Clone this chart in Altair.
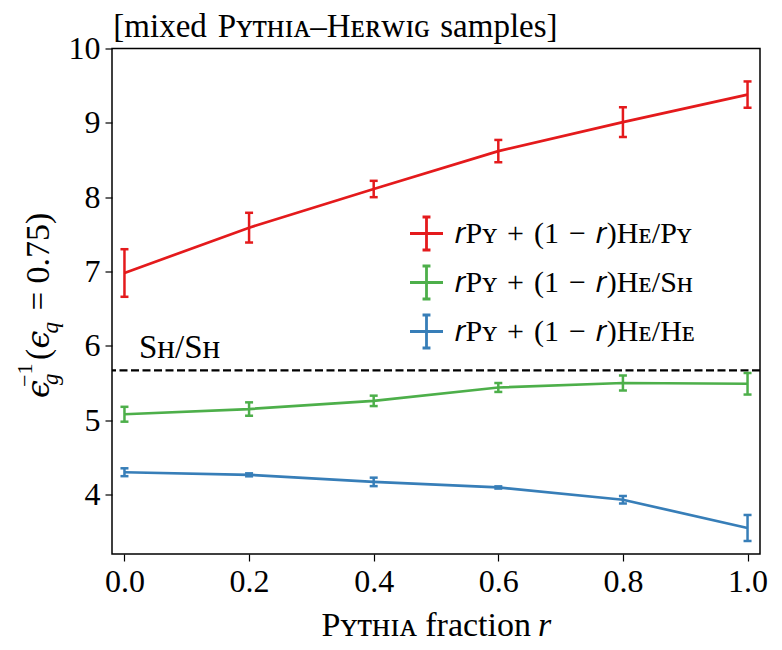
import altair as alt
import pandas as pd

# ---- data ----
r_vals = [0.0, 0.2, 0.4, 0.6, 0.8, 1.0]
py_vals = [6.98, 7.59, 8.11, 8.62, 9.01, 9.38]
py_errs = [0.32, 0.20, 0.11, 0.15, 0.20, 0.177]
sh_vals = [5.08, 5.15, 5.26, 5.44, 5.50, 5.49]
sh_errs = [0.10, 0.09, 0.07, 0.06, 0.10, 0.145]
he_vals = [4.30, 4.265, 4.17, 4.095, 3.93, 3.55]
he_errs = [0.053, 0.02, 0.057, 0.015, 0.05, 0.175]
shsh_ref = 5.67

SP = "\u2004"
series_labels = [
    f"𝑟Pʏ{SP}+{SP}(1{SP}−{SP}𝑟)Hᴇ/Pʏ",
    f"𝑟Pʏ{SP}+{SP}(1{SP}−{SP}𝑟)Hᴇ/Sʜ",
    f"𝑟Pʏ{SP}+{SP}(1{SP}−{SP}𝑟)Hᴇ/Hᴇ",
]
series_colors = ["#e41a1c", "#4daf4a", "#377eb8"]
x_ticks = [0.0, 0.2, 0.4, 0.6, 0.8, 1.0]
y_ticks = [4, 5, 6, 7, 8, 9, 10]
title_text = "[mixed\u2004Pʏᴛʜɪᴀ–Hᴇʀᴡɪɢ\u2004samples]"
xtitle_text = "Pʏᴛʜɪᴀ fraction"
ref_text = "Sʜ/Sʜ"

FONT = "Liberation Serif"

rows = []
for lab, vals, errs in zip(series_labels, [py_vals, sh_vals, he_vals], [py_errs, sh_errs, he_errs]):
    for rv, v, e in zip(r_vals, vals, errs):
        rows.append({"r": rv, "value": v, "lo": v - e, "hi": v + e, "series": lab})
df = pd.DataFrame(rows)

W, H = 648, 505.5

xscale = alt.Scale(domain=[-0.02, 1.02], nice=False, zero=False)
yscale = alt.Scale(domain=[3.2, 10], nice=False, zero=False)
x_axis = alt.Axis(values=x_ticks, format=".1f", title=None, grid=False)
y_axis = alt.Axis(values=y_ticks, format="d", title=None, grid=False)

color_enc = alt.Color(
    "series:N",
    scale=alt.Scale(domain=series_labels, range=series_colors),
    legend=alt.Legend(
        title=None,
        orient="none",
        legendX=296.5,
        legendY=167,
        symbolType="M-1,0H1M0,-1V1M-0.24,-1H0.24M-0.24,1H0.24",
        symbolSize=1089,
        symbolStrokeWidth=2.8,
        symbolOpacity=1,
        symbolFillColor="transparent",
        labelFont=FONT,
        labelFontSize=30,
        labelColor="black",
        labelLimit=0,
        labelOffset=10,
        rowPadding=3,
        padding=0,
    ),
)

base = alt.Chart(df)
LW = 2.7

lines = base.mark_line(strokeWidth=LW).encode(
    x=alt.X("r:Q", scale=xscale, axis=x_axis),
    y=alt.Y("value:Q", scale=yscale, axis=y_axis),
    color=color_enc)
bars = base.mark_rule(strokeWidth=2.5).encode(
    x=alt.X("r:Q", scale=xscale, axis=x_axis),
    y=alt.Y("lo:Q", scale=yscale, axis=y_axis), y2="hi:Q", color=color_enc)
cap_lo = base.mark_tick(orient="horizontal", size=8, thickness=2.5, opacity=1).encode(
    x=alt.X("r:Q", scale=xscale, axis=x_axis),
    y=alt.Y("lo:Q", scale=yscale, axis=y_axis), color=color_enc)
cap_hi = base.mark_tick(orient="horizontal", size=8, thickness=2.5, opacity=1).encode(
    x=alt.X("r:Q", scale=xscale, axis=x_axis),
    y=alt.Y("hi:Q", scale=yscale, axis=y_axis), color=color_enc)

ref_line = alt.Chart(pd.DataFrame({"v": [shsh_ref]})).mark_rule(
    color="black", strokeWidth=2.3, strokeDash=[8, 3.5]
).encode(y=alt.Y("v:Q", scale=yscale, axis=y_axis))


def txt(s, x, y, size, angle=0, italic=False, align="left", baseline="alphabetic", font=FONT):
    kw = dict(text=s, font=font, fontSize=size, color="black", align=align, baseline=baseline)
    if angle:
        kw["angle"] = angle
    if italic:
        kw["fontStyle"] = "italic"
    return alt.Chart(pd.DataFrame({"a": [0]})).mark_text(**kw).encode(
        x=alt.value(x), y=alt.value(y))


annotations = [
    txt(title_text, 1.3, -11.2, 33),
    txt(ref_text, 27, 309.5, 33),
    txt(xtitle_text, 419, 587.5, 34, align="right"),
    txt("r", 426, 587.5, 34, italic=True),
    # y-axis title, composed: eps_g^{-1}(eps_q = 0.75)
    txt("ϵ", -62.7, 349.5, 32, angle=270, italic=True, font="DejaVu Serif"),
    txt("−1", -80.3, 338.5, 22, angle=270),
    txt("g", -53.7, 336.5, 23, angle=270, italic=True),
    txt("(", -62.7, 311.5, 33, angle=270),
    txt("ϵ", -62.7, 300, 32, angle=270, italic=True, font="DejaVu Serif"),
    txt("q", -53.7, 285, 23, angle=270, italic=True),
    txt("=", -62.7, 262, 33, angle=270),
    txt("0.75)", -62.7, 235, 34, angle=270),
]

chart = alt.layer(ref_line, lines, bars, cap_lo, cap_hi, *annotations).properties(
    width=W, height=H,
    autosize=alt.AutoSizeParams(type="none"),
    padding={"left": 104, "top": 40.5, "right": 14, "bottom": 90},
    background="white",
).configure_view(
    stroke="black", strokeWidth=1.5
).configure_axis(
    domain=False,
    ticks=True,
    tickColor="black",
    tickWidth=1.2,
    tickSize=7,
    labelFont=FONT,
    labelFontSize=32,
    labelColor="black",
    labelPadding=5,
)

chart.save("out.html", embed_options={"renderer": "svg", "actions": False})
